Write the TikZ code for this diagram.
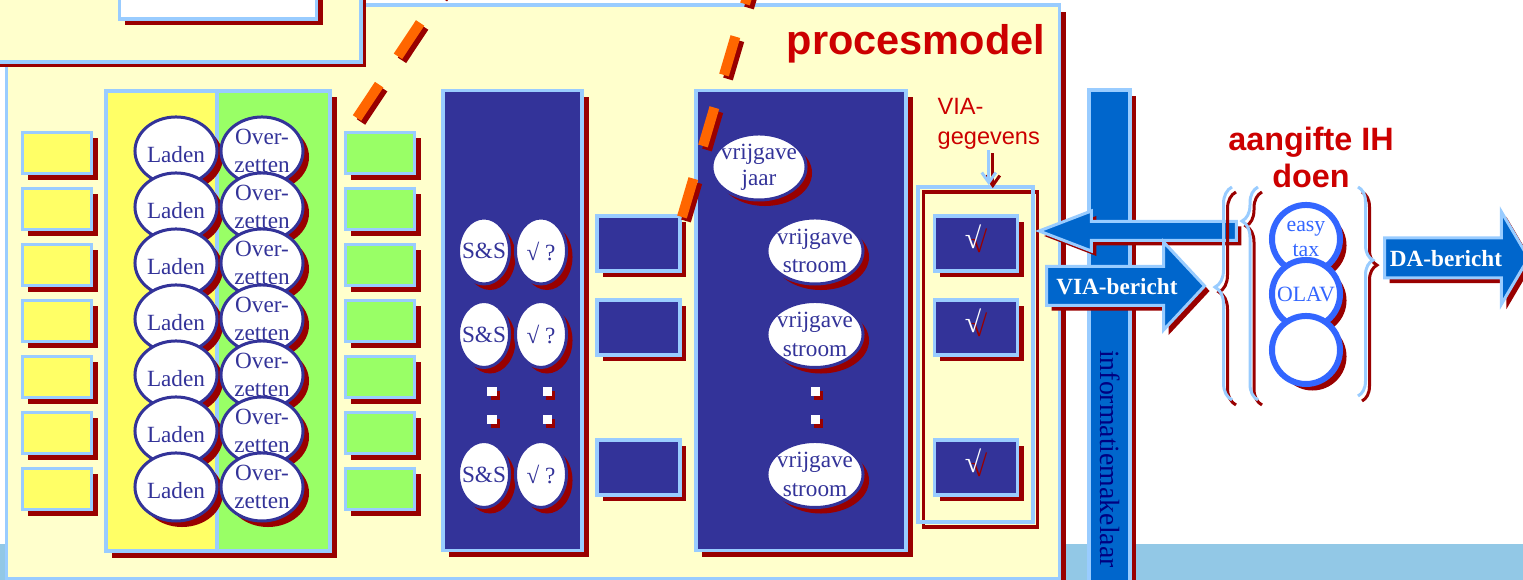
\documentclass[tikz,border=0pt]{standalone}
\usepackage{fontspec}
\setmainfont{Liberation Serif}
\newfontfamily\arialfont{Liberation Sans}
\usetikzlibrary{shapes.geometric,shapes.arrows,shadows,arrows.meta,decorations.pathreplacing}

\definecolor{panelyellow}{HTML}{FFFFCC}
\definecolor{lightblue}{HTML}{99CCFF}
\definecolor{shadowred}{HTML}{990000}
\definecolor{boxyellow}{HTML}{FFFF66}
\definecolor{boxgreen}{HTML}{99FF66}
\definecolor{darkblue}{HTML}{333399}
\definecolor{midblue}{HTML}{0066CC}
\definecolor{zoomorange}{HTML}{FF6600}
\definecolor{titlered}{HTML}{CC0000}
\definecolor{ringblue}{HTML}{3366FF}
\definecolor{stripblue}{RGB}{146,200,230}
\definecolor{navytext}{HTML}{000080}

\begin{document}
\begin{tikzpicture}[x=0.01cm, y=-0.01cm]
        % Define styles
        \tikzset{
            redshadow/.style={drop shadow={shadow xshift=#1, shadow yshift=-#1, opacity=1, fill=shadowred}},
            redshadow/.default=0.06cm,
            panel/.style={rectangle, draw=lightblue, line width=0.035cm, fill=panelyellow, inner sep=0pt},
            filebox/.style={rectangle, draw=lightblue, line width=0.035cm, inner sep=0pt, minimum width=0.69cm, minimum height=0.41cm, redshadow},
            colbox/.style={rectangle, draw=lightblue, line width=0.035cm, inner sep=0pt, minimum height=4.6cm, redshadow=0.065cm},
            bluebox/.style={rectangle, draw=lightblue, line width=0.035cm, fill=darkblue, inner sep=0pt, minimum width=0.83cm, minimum height=0.55cm, redshadow},
            task/.style={ellipse, draw=darkblue, line width=0.03cm, fill=white, inner sep=-0.1cm, text=darkblue, align=center, font=\fontsize{6.6}{8}\selectfont, redshadow},
            loadtask/.style={task, minimum width=0.82cm, minimum height=0.68cm, execute at begin node={\rule{0pt}{0.23cm}}},
            checktask/.style={task, minimum width=0.51cm, minimum height=0.66cm},
            flowtask/.style={task, minimum width=0.96cm, minimum height=0.66cm, font=\fontsize{6.6}{8.2}\selectfont, execute at begin node={\rule{0pt}{0.22cm}}},
            dotbox/.style={rectangle, fill=white, minimum size=0.09cm, inner sep=0pt, redshadow=0.035cm},
            checkmark/.style={font=\fontsize{8.5}{9}\selectfont, inner sep=0pt},
            ring/.style={circle, draw=ringblue, line width=0.06cm, fill=white, minimum size=0.68cm, inner sep=0pt, text=ringblue, align=center, font=\fontsize{6.2}{7.1}\selectfont, redshadow=0.065cm},
            message/.style={single arrow, draw=lightblue, line width=0.03cm, fill=midblue, single arrow head indent=0pt, redshadow=0.05cm},
            msgtext/.style={text=white, font=\bfseries\fontsize{6.6}{7}\selectfont},
            zoomline/.style={line width=0.1cm, dash pattern=on 0.4cm off 0.34cm},
            bracket/.style={line width=0.03cm, decorate}
        }
        \useasboundingbox (0,0) rectangle (1523,580);

        % Panels
        \node[rectangle, fill=stripblue, minimum width=15.4cm, minimum height=0.36cm, inner sep=0pt] (strip) at (761,562) {};
        \node[panel, minimum width=10.52cm, minimum height=5.74cm, redshadow=0.07cm] (main_panel) at (533,292) {};
        \node[panel, minimum width=3.82cm, minimum height=0.84cm, redshadow=0.05cm] (top_panel) at (170,20) {};
        \node[rectangle, draw=lightblue, line width=0.035cm, fill=white, minimum width=1.97cm, minimum height=0.4cm, inner sep=0pt, redshadow=0.06cm] (top_box) at (218,-1) {};
        \node[text=titlered, font=\arialfont\bfseries\fontsize{11.8}{14}\selectfont, anchor=base] (title_node) at (916,55) {procesmodel};

        % Files and loading
        \node[filebox, fill=boxyellow] (yellow_node_1) at (57,153) {};
        \node[filebox, fill=boxyellow] (yellow_node_2) at (57,209) {};
        \node[filebox, fill=boxyellow] (yellow_node_3) at (57,265) {};
        \node[filebox, fill=boxyellow] (yellow_node_4) at (57,321) {};
        \node[filebox, fill=boxyellow] (yellow_node_5) at (57,377) {};
        \node[filebox, fill=boxyellow] (yellow_node_6) at (57,433) {};
        \node[filebox, fill=boxyellow] (yellow_node_7) at (57,489) {};
        \node[colbox, fill=boxyellow, minimum width=2.24cm] (convert_col) at (218,321) {};
        \node[rectangle, draw=lightblue, line width=0.035cm, fill=boxgreen, minimum width=1.13cm, minimum height=4.6cm, inner sep=0pt] (convert_half) at (273.5,321) {};
        \node[loadtask] (laden_node_1) at (176,151) {Laden};
        \node[loadtask] (over_node_1) at (262,151) {Over-\\zetten};
        \node[loadtask] (laden_node_2) at (176,207) {Laden};
        \node[loadtask] (over_node_2) at (262,207) {Over-\\zetten};
        \node[loadtask] (laden_node_3) at (176,263) {Laden};
        \node[loadtask] (over_node_3) at (262,263) {Over-\\zetten};
        \node[loadtask] (laden_node_4) at (176,319) {Laden};
        \node[loadtask] (over_node_4) at (262,319) {Over-\\zetten};
        \node[loadtask] (laden_node_5) at (176,375) {Laden};
        \node[loadtask] (over_node_5) at (262,375) {Over-\\zetten};
        \node[loadtask] (laden_node_6) at (176,431) {Laden};
        \node[loadtask] (over_node_6) at (262,431) {Over-\\zetten};
        \node[loadtask] (laden_node_7) at (176,487) {Laden};
        \node[loadtask] (over_node_7) at (262,487) {Over-\\zetten};
        \node[filebox, fill=boxgreen] (green_node_1) at (380,153) {};
        \node[filebox, fill=boxgreen] (green_node_2) at (380,209) {};
        \node[filebox, fill=boxgreen] (green_node_3) at (380,265) {};
        \node[filebox, fill=boxgreen] (green_node_4) at (380,321) {};
        \node[filebox, fill=boxgreen] (green_node_5) at (380,377) {};
        \node[filebox, fill=boxgreen] (green_node_6) at (380,433) {};
        \node[filebox, fill=boxgreen] (green_node_7) at (380,489) {};

        % Checks
        \node[colbox, fill=darkblue, minimum width=1.39cm] (check_col) at (512.5,320.5) {};
        \node[checktask] (ss_node_1) at (484,251) {S\&S};
        \node[checktask] (query_node_1) at (541,251) {√ ?};
        \node[checktask] (ss_node_2) at (484,334.5) {S\&S};
        \node[checktask] (query_node_2) at (541,334.5) {√ ?};
        \node[dotbox] (dot_node_1) at (492,392) {};
        \node[dotbox] (dot_node_2) at (492,420) {};
        \node[dotbox] (dot_node_3) at (547,392) {};
        \node[dotbox] (dot_node_4) at (547,420) {};
        \node[checktask] (ss_node_3) at (484,474.5) {S\&S};
        \node[checktask] (query_node_3) at (541,474.5) {√ ?};
        \node[bluebox] (link_node_1) at (638.5,243.5) {};
        \node[bluebox] (link_node_2) at (638.5,327.5) {};
        \node[bluebox] (link_node_3) at (638.5,467.5) {};

        % Release
        \node[colbox, fill=darkblue, minimum width=2.1cm] (release_col) at (801,320.5) {};
        \node[flowtask, minimum width=0.94cm, font=\fontsize{6.6}{7.4}\selectfont] (jaar_node) at (759,167) {vrijgave\\jaar};
        \node[flowtask] (stroom_node_1) at (815,251) {vrijgave\\stroom};
        \node[flowtask] (stroom_node_2) at (815,334.5) {vrijgave\\stroom};
        \node[dotbox] (dot_node_5) at (815,392) {};
        \node[dotbox] (dot_node_6) at (815,420) {};
        \node[flowtask] (stroom_node_3) at (815,474.5) {vrijgave\\stroom};

        % Zoom lines
        \coordinate (zoom_a_start) at (357,118);
        \coordinate (zoom_a_end) at (446,-16);
        \coordinate (zoom_b_start) at (682,217);
        \coordinate (zoom_b_end) at (753,-23);
        \draw[zoomline, shadowred, transform canvas={xshift=0.04cm, yshift=-0.04cm}] (zoom_a_start) -- (zoom_a_end);
        \draw[zoomline, zoomorange] (zoom_a_start) -- (zoom_a_end);
        \draw[zoomline, shadowred, transform canvas={xshift=0.04cm, yshift=-0.04cm}] (zoom_b_start) -- (zoom_b_end);
        \draw[zoomline, zoomorange] (zoom_b_start) -- (zoom_b_end);

        % VIA data
        \node[text=titlered, font=\arialfont\fontsize{6.7}{8.5}\selectfont, align=left, anchor=west, inner sep=0pt] (via_note) at (937,124) {VIA-\\gegevens};
        \node[rectangle, draw=shadowred, line width=0.035cm, minimum width=1.14cm, minimum height=3.35cm, inner sep=0pt] (chk_shadow) at (980.5,359.5) {};
        \node[rectangle, draw=lightblue, line width=0.035cm, minimum width=1.15cm, minimum height=3.35cm, inner sep=0pt] (chk_frame) at (975.5,354.5) {};
        \draw[line width=0.03cm, shadowred, -{Straight Barb[length=0.1cm, width=0.14cm]}, transform canvas={xshift=0.04cm, yshift=-0.03cm}] (via_note.south) -- (via_note.south |- chk_frame.north);
        \draw[line width=0.03cm, lightblue, -{Straight Barb[length=0.1cm, width=0.14cm]}] (via_note.south) -- (via_note.south |- chk_frame.north);
        \node[bluebox] (tick_box_1) at (976,243.5) {};
        \node[bluebox] (tick_box_2) at (976,327.5) {};
        \node[bluebox] (tick_box_3) at (976,467.5) {};
        \node[checkmark, text=shadowred] (tick_shadow_1) at (979,241) {√};
        \node[checkmark, text=white] (tick_node_1) at (973,237) {√};
        \node[checkmark, text=shadowred] (tick_shadow_2) at (979,325) {√};
        \node[checkmark, text=white] (tick_node_2) at (973,321) {√};
        \node[checkmark, text=shadowred] (tick_shadow_3) at (979,465) {√};
        \node[checkmark, text=white] (tick_node_3) at (973,461) {√};

        % Broker
        \node[rectangle, draw=lightblue, line width=0.035cm, fill=midblue, minimum width=0.41cm, minimum height=5.1cm, inner sep=0pt, redshadow=0.06cm] (broker_bar) at (1109.5,345) {};
        \node[rotate=-90, text=navytext, font=\fontsize{7.9}{9}\selectfont] (broker_label) at (1110,459) {informatiemakelaar};

        % Messages
        \node[message, shape border rotate=180, anchor=tip, minimum height=1.97cm, inner ysep=0.08cm, single arrow head extend=0.105cm, single arrow tip angle=42] (back_msg) at (1035,231) {};
        \node[message, anchor=tail, minimum height=1.58cm, inner ysep=0.18cm, single arrow head extend=0.245cm, single arrow tip angle=94] (via_msg) at (1045,286) {};
        \node[msgtext] (via_label) at (1117,287) {VIA-bericht};

        % Tax return
        \node[text=titlered, font=\arialfont\bfseries\fontsize{9.2}{10.5}\selectfont, align=center] (aangifte_node) at (1311,157) {aangifte IH\\doen};
        \coordinate (brace_a_top) at (1232,187);
        \coordinate (brace_a_bot) at (1232,400);
        \coordinate (brace_b_top) at (1258,187);
        \coordinate (brace_b_bot) at (1258,400);
        \coordinate (brace_c_top) at (1358,187);
        \coordinate (brace_c_bot) at (1358,396);
        \draw[bracket, shadowred, decoration={brace, mirror, amplitude=0.17cm, aspect=0.47}, transform canvas={xshift=0.04cm, yshift=-0.05cm}] (brace_a_top) -- (brace_a_bot);
        \draw[bracket, lightblue, decoration={brace, mirror, amplitude=0.17cm, aspect=0.47}] (brace_a_top) -- (brace_a_bot);
        \draw[bracket, shadowred, decoration={brace, mirror, amplitude=0.16cm, aspect=0.16}, transform canvas={xshift=0.04cm, yshift=-0.05cm}] (brace_b_top) -- (brace_b_bot);
        \draw[bracket, lightblue, decoration={brace, mirror, amplitude=0.16cm, aspect=0.16}] (brace_b_top) -- (brace_b_bot);
        \draw[bracket, shadowred, decoration={brace, amplitude=0.15cm, aspect=0.35}, transform canvas={xshift=0.04cm, yshift=-0.05cm}] (brace_c_top) -- (brace_c_bot);
        \draw[bracket, lightblue, decoration={brace, amplitude=0.15cm, aspect=0.35}] (brace_c_top) -- (brace_c_bot);
        \node[ring, execute at begin node={\rule{0pt}{0.165cm}}] (easy_node) at (1306,239) {easy\\tax};
        \node[ring] (olav_node) at (1306,294) {OLAV};
        \node[ring] (spare_node) at (1306,350) {};
        \node[message, anchor=tail, minimum height=1.44cm, inner ysep=0.185cm, single arrow head extend=0.26cm, single arrow tip angle=119] (da_msg) at (1383,258) {};
        \node[msgtext] (da_label) at (1446,259) {DA-bericht};
    \end{tikzpicture}
\end{document}
